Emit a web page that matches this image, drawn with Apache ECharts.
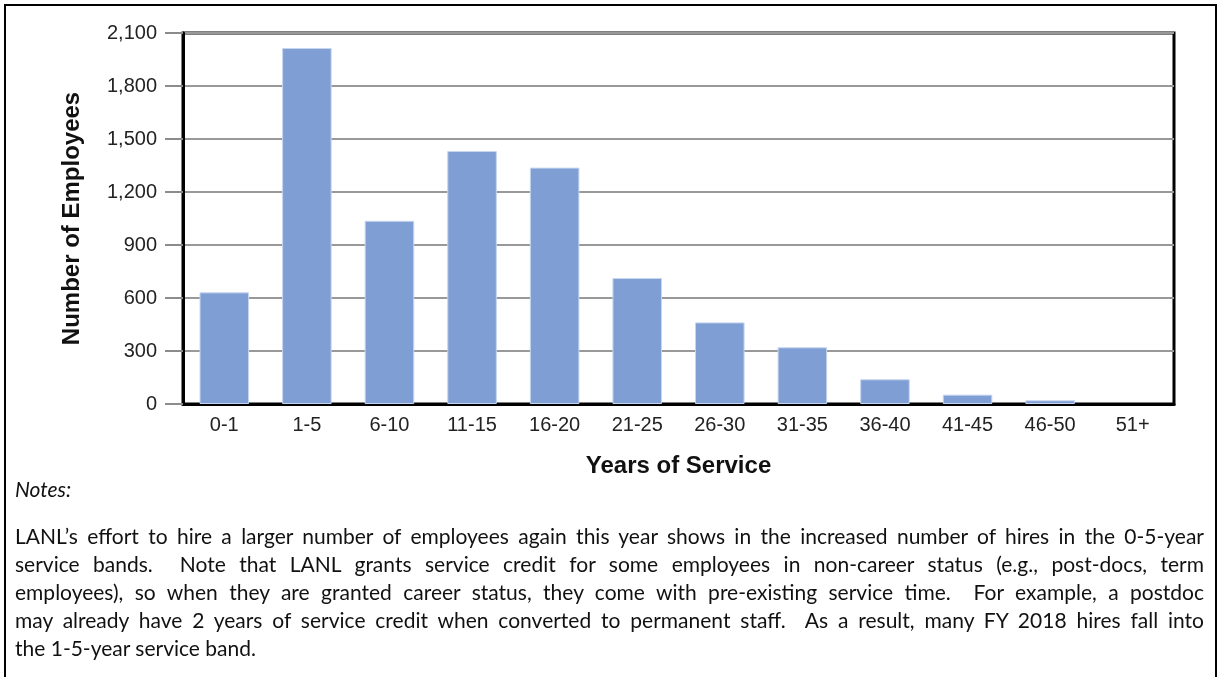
<!DOCTYPE html>
<html>
<head>
<meta charset="utf-8">
<script src="https://cdn.jsdelivr.net/npm/echarts@6/dist/echarts.min.js"></script>
<style>
  html, body { margin: 0; padding: 0; background: #fff; }
  #wrap { position: relative; width: 1219px; height: 677px; overflow: hidden; }
  #frame { position: absolute; left: 4px; top: 4px; width: 1209px; height: 700px; border: 2px solid #000; box-sizing: content-box; }
  #chart { position: absolute; left: 0; top: 0; width: 1219px; height: 677px; }
  #notes { position: absolute; left: 15px; top: 474px; width: 1189px; font-family: Lato, "Open Sans", sans-serif; font-size: 21px; color: #111; }
  #notes .title { font-style: italic; height: 30px; line-height: 30px; }
  #notes .gap { height: 18px; }
  #notes .ln { line-height: 28px; height: 28px; text-align: justify; text-align-last: justify; white-space: normal; }
  #notes .ln.last { text-align-last: left; }
</style>
</head>
<body>
<div id="wrap">
  <div id="chart"></div>
  <div id="frame"></div>
  <div id="notes">
    <div class="title">Notes:</div>
    <div class="gap"></div>
    <div class="ln">LANL’s effort to hire a larger number of employees again this year shows in the increased number of hires in the 0-5-year</div>
    <div class="ln">service bands.&nbsp; Note that LANL grants service credit for some employees in non-career status (e.g., post-docs, term</div>
    <div class="ln">employees), so when they are granted career status, they come with pre-existing service time.&nbsp; For example, a postdoc</div>
    <div class="ln">may already have 2 years of service credit when converted to permanent staff.&nbsp; As a result, many FY 2018 hires fall into</div>
    <div class="ln last">the 1-5-year service band.</div>
  </div>
</div>
<script>
const categories = ['0-1', '1-5', '6-10', '11-15', '16-20', '21-25', '26-30', '31-35', '36-40', '41-45', '46-50', '51+'];
const employees = [632, 2015, 1037, 1432, 1338, 713, 462, 321, 140, 53, 21, 0];
const yTicks = { min: 0, max: 2100, interval: 300 };
const yTitle = 'Number of Employees';
const xTitle = 'Years of Service';

const chart = echarts.init(document.getElementById('chart'), null, { renderer: 'canvas' });
chart.setOption({
  animation: false,
  backgroundColor: 'transparent',
  grid: {
    left: 183, top: 33, right: 45, bottom: 273,
    show: true, borderColor: '#000', borderWidth: 3, backgroundColor: 'transparent'
  },
  xAxis: {
    type: 'category',
    data: categories,
    axisLine: { show: true, lineStyle: { color: '#000', width: 3 } },
    axisTick: { show: false },
    axisLabel: { color: '#222', fontFamily: '"Liberation Sans", Arial, sans-serif', fontSize: 20, margin: 11 },
    name: xTitle,
    nameLocation: 'middle',
    nameGap: 50,
    nameTextStyle: { color: '#111', fontFamily: '"Liberation Sans", Arial, sans-serif', fontSize: 24, fontWeight: 'bold' }
  },
  yAxis: {
    type: 'value',
    min: yTicks.min, max: yTicks.max, interval: yTicks.interval,
    axisLine: { show: true, lineStyle: { color: '#000', width: 3 } },
    axisTick: { show: true, length: 18, lineStyle: { color: '#8c8c8c', width: 2 } },
    splitLine: { show: true, lineStyle: { color: '#999', width: 2 } },
    axisLabel: {
      color: '#222', fontFamily: '"Liberation Sans", Arial, sans-serif', fontSize: 20, margin: 26,
      formatter: v => v.toLocaleString('en-US')
    },
    name: yTitle,
    nameLocation: 'middle',
    nameGap: 99,
    nameTextStyle: { color: '#111', fontFamily: '"Liberation Sans", Arial, sans-serif', fontSize: 24, fontWeight: 'bold' }
  },
  series: [{
    type: 'bar',
    data: employees.map(v => (v === 0 ? { value: v, itemStyle: { borderWidth: 0 } } : v)),
    barWidth: '60%',
    itemStyle: { color: '#7f9fd4', borderColor: '#c6d5ef', borderWidth: 1 }
  }]
});
</script>
</body>
</html>
